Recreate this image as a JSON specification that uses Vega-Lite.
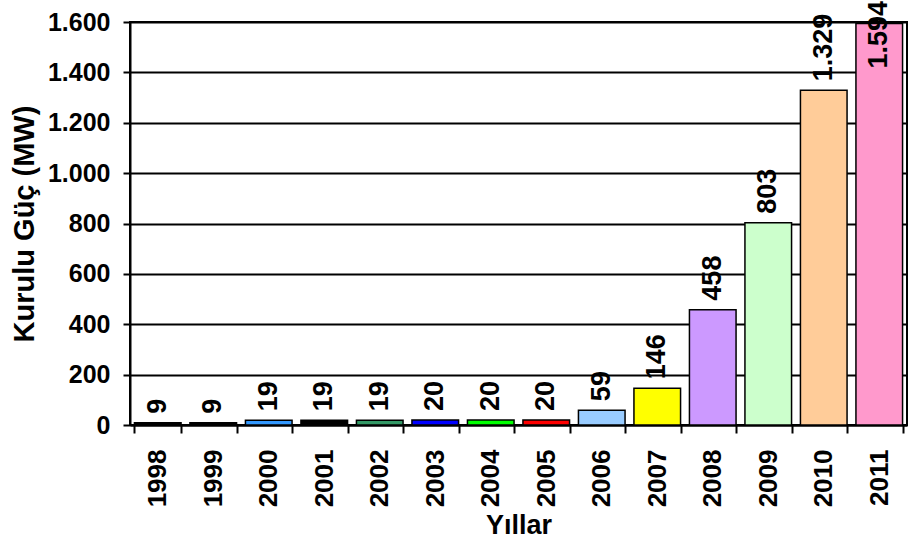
{
  "$schema": "https://vega.github.io/schema/vega-lite/v6.json",
  "width": 777,
  "height": 403,
  "autosize": "none",
  "padding": {"left": 130, "top": 22, "right": 10, "bottom": 118},
  "background": "white",
  "config": {
    "locale": {"number": {"decimal": ",", "thousands": ".", "grouping": [3], "currency": ["", ""]}},
    "view": {"stroke": "black", "strokeWidth": 2},
    "font": "Liberation Sans"
  },
  "data": {
    "values": [
      {"year": "1998", "mw": 9, "color": "#000000"},
      {"year": "1999", "mw": 9, "color": "#000000"},
      {"year": "2000", "mw": 19, "color": "#3399ff"},
      {"year": "2001", "mw": 19, "color": "#000000"},
      {"year": "2002", "mw": 19, "color": "#339966"},
      {"year": "2003", "mw": 20, "color": "#0000ff"},
      {"year": "2004", "mw": 20, "color": "#00ff00"},
      {"year": "2005", "mw": 20, "color": "#ff0000"},
      {"year": "2006", "mw": 59, "color": "#99ccff"},
      {"year": "2007", "mw": 146, "color": "#ffff00"},
      {"year": "2008", "mw": 458, "color": "#cc99ff"},
      {"year": "2009", "mw": 803, "color": "#ccffcc"},
      {"year": "2010", "mw": 1329, "color": "#ffcc99"},
      {"year": "2011", "mw": 1594, "color": "#ff99cc"}
    ]
  },
  "encoding": {
    "x": {
      "field": "year", "type": "ordinal",
      "scale": {"paddingInner": 0.16, "paddingOuter": 0.08},
      "axis": {
        "title": "Yıllar", "titleFontSize": 27, "titleFontWeight": "bold", "titleColor": "black", "titlePadding": 6,
        "labelAngle": 270, "labelFontSize": 26, "labelFontWeight": "bold", "labelColor": "black", "labelPadding": 16,
        "tickBand": "extent", "tickColor": "black", "tickSize": 8, "tickWidth": 2,
        "domainColor": "black", "domainWidth": 2
      }
    },
    "y": {
      "field": "mw", "type": "quantitative",
      "scale": {"domain": [0, 1600], "nice": false},
      "axis": {
        "title": "Kurulu Güç (MW)", "titleFontSize": 29, "titleFontWeight": "bold", "titleColor": "black", "titlePadding": 8,
        "values": [0, 200, 400, 600, 800, 1000, 1200, 1400, 1600],
        "format": ",d",
        "labelFontSize": 25, "labelFontWeight": "bold", "labelColor": "black", "labelPadding": 13,
        "tickColor": "black", "tickSize": 7, "tickWidth": 2,
        "domainColor": "black", "domainWidth": 2,
        "grid": true, "gridColor": "black", "gridWidth": 2, "gridOpacity": 1
      }
    }
  },
  "layer": [
    {
      "mark": {"type": "bar", "stroke": "black", "strokeWidth": 1.5},
      "encoding": {"color": {"field": "color", "type": "nominal", "scale": null}}
    },
    {
      "mark": {"type": "text", "angle": 270, "align": "left", "baseline": "middle", "dx": {"expr": "datum.mw > 1500 ? -45 : 9"}, "fontSize": 27, "fontWeight": "bold", "color": "black", "clip": false},
      "encoding": {"text": {"field": "mw", "type": "quantitative", "format": ",d"}}
    }
  ]
}
